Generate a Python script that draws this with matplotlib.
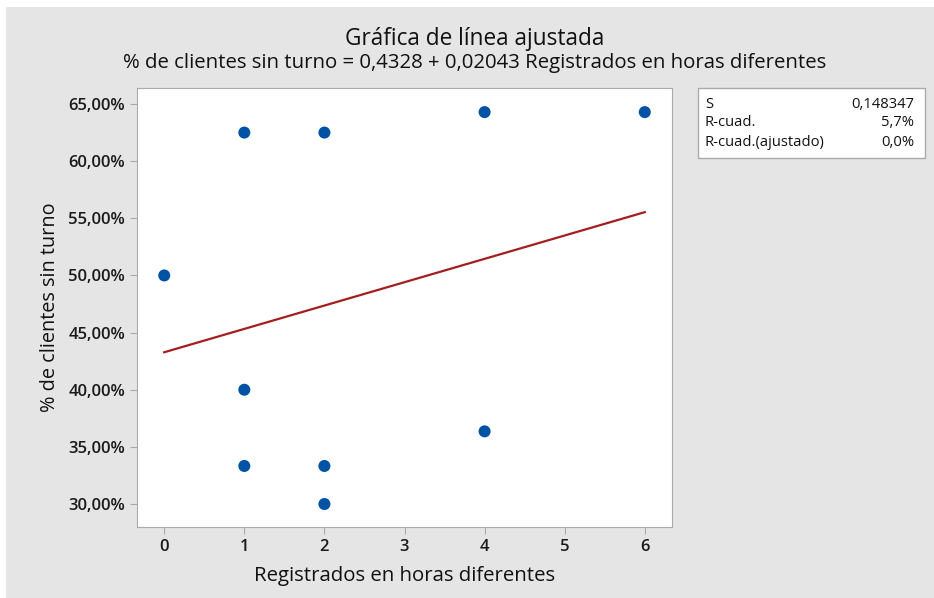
import numpy as np
import matplotlib.pyplot as plt
from matplotlib.patches import Rectangle

plt.rcParams['font.family'] = ['Open Sans', 'DejaVu Sans']

# Datos
registrados = [0, 1, 1, 1, 2, 2, 2, 4, 4, 6]
pct_sin_turno = [0.50, 0.625, 0.40, 0.3333, 0.625, 0.3333, 0.30, 0.6429, 0.3636, 0.6429]
b0 = 0.4328
b1 = 0.02043
resumen_nombres = ["S", "R-cuad.", "R-cuad.(ajustado)"]
resumen_valores = ["0,148347", "5,7%", "0,0%"]
y_ticks = [0.30, 0.35, 0.40, 0.45, 0.50, 0.55, 0.60, 0.65]
x_ticks = [0, 1, 2, 3, 4, 5, 6]

fig = plt.figure(figsize=(9.34, 5.98), dpi=100)
fig.patch.set_facecolor('#e5e5e5')
# franjas blancas arriba e izquierda
fig.patches.append(Rectangle((0, 1 - 7/598), 1, 7/598, transform=fig.transFigure,
                             facecolor='white', edgecolor='none', zorder=-10))
fig.patches.append(Rectangle((0, 0), 6/934, 1, transform=fig.transFigure,
                             facecolor='white', edgecolor='none', zorder=-10))

ax = fig.add_axes([137/934, 1 - 527/598, (672-137)/934, (527-88)/598])
ax.set_facecolor('white')

# Recta ajustada
xl = np.array([0, 6])
ax.plot(xl, b0 + b1 * xl, color='#a31f1f', lw=1.6, zorder=2)
ax.scatter(registrados, pct_sin_turno, s=75, color='#0052a5', zorder=3, edgecolors='none')

ax.set_xlim(-0.34, 6.34)
ax.set_ylim(0.2799, 0.664)
ax.set_xticks(x_ticks)
ax.set_yticks(y_ticks)
ax.set_yticklabels([f"{v*100:.2f}%".replace('.', ',') for v in y_ticks])
for s in ax.spines.values():
    s.set_color('#aaaaaa')
ax.tick_params(colors='#aaaaaa', labelcolor='#1a1a1a', labelsize=12, length=5)
for lb in ax.get_xticklabels() + ax.get_yticklabels():
    lb.set_fontweight('semibold')
ax.set_xlabel("Registrados en horas diferentes", fontsize=14.7, color='#111111', labelpad=8)
ax.set_ylabel("% de clientes sin turno", fontsize=14.3, color='#111111', labelpad=6)

fig.text(475/934, 1 - 39/598, "Gráfica de línea ajustada", ha='center', va='center',
         fontsize=16.3, color='#111111', fontweight='medium')
fig.text(475/934, 1 - 63/598,
         "% de clientes sin turno = 0,4328 + 0,02043 Registrados en horas diferentes",
         ha='center', va='center', fontsize=14.7, color='#111111')

# Cuadro de resumen
fig.patches.append(Rectangle((698/934, 1 - 158/598), (925-698)/934, 70/598,
                             transform=fig.transFigure, facecolor='white',
                             edgecolor='#aaaaaa', lw=1))
for i, (n, v) in enumerate(zip(resumen_nombres, resumen_valores)):
    yy = 1 - (104 + i * 19) / 598
    fig.text(705/934, yy, n, ha='left', va='center', fontsize=10.6, color='#111111')
    fig.text(914/934, yy, v, ha='right', va='center', fontsize=10.6, color='#111111')

fig.savefig('out.png', dpi=100)
